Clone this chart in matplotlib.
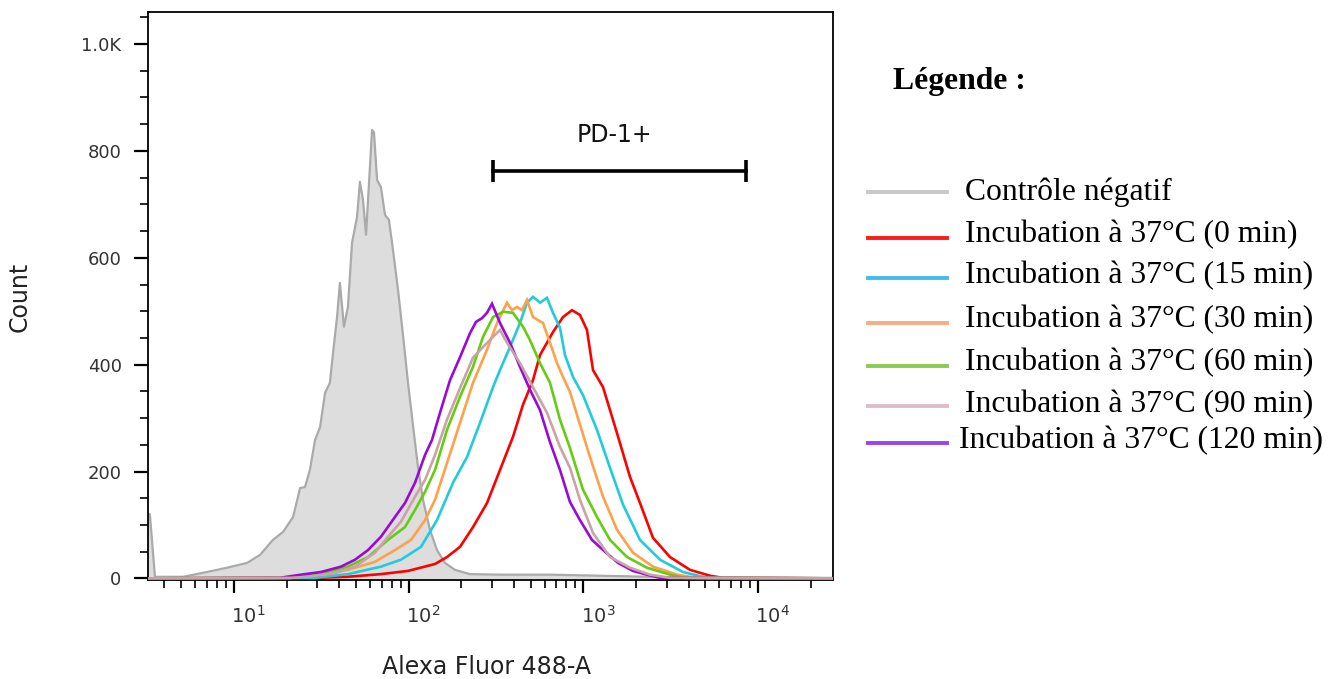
import matplotlib
matplotlib.use("Agg")
import matplotlib.pyplot as plt
from matplotlib.lines import Line2D
from matplotlib.ticker import FixedLocator, LogLocator, MultipleLocator, NullFormatter
import matplotlib.transforms as mtransforms

# ---- histogram data (fluorescence intensity, event count) ----
control_x = [3.0, 3.30, 3.53, 5.11, 7.01, 9.12, 11.9, 14.1, 16.7, 19.1, 21.8, 23.9, 25.5,
             27.2, 29.1, 31.1, 33.2, 35.4, 36.9, 38.9, 40.4, 42.6, 44.9, 47.4, 50.6, 52.6,
             54.8, 57.0, 61.7, 63.3, 65.9, 69.4, 73.2, 77.1, 81.3, 86.9, 92.8, 99.1, 105.8,
             113.0, 120.8, 132.4, 145.2, 161.4, 184.0, 224.0, 333.0, 644.0, 1245.0, 2406.0,
             4649.0, 30000.0]
control_y = [125, 120, 3, 3, 12, 20, 29, 44, 72, 87, 115, 169, 171,
             203, 259, 283, 347, 366, 422, 489, 553, 471, 508, 628, 676, 742,
             708, 643, 839, 835, 746, 732, 680, 671, 615, 540, 455, 366, 287,
             209, 147, 91, 53, 29, 16, 8, 7, 7, 5, 3,
             1, 1]

min0_x = [3.0, 29.1, 44.9, 69.4, 99.1, 141.5, 165.7, 196.7, 233.4, 280.7, 333.2, 395.4, 451.1,
          514.6, 564.5, 669.9, 764.2, 860.4, 956.1, 1048, 1135, 1295, 1557, 1848, 2109,
          2502, 3132, 4076, 5303, 6297, 30000]
min0_y = [0, 1, 3, 8, 14, 27, 40, 59, 96, 141, 203, 265, 325,
          371, 418, 461, 489, 502, 493, 465, 390, 358, 272, 190, 141,
          76, 40, 16, 5, 1, 0]

min15_x = [3.0, 29.1, 44.9, 69.4, 90.3, 117.6, 145.2, 179.3, 215.7, 256.0, 303.9, 333.2, 380.1,
           433.6, 475.5, 514.6, 564.5, 619.1, 669.9, 734.6, 784.6, 872, 994.7, 1196, 1420,
           1686, 2109, 2745, 3717, 5099, 30000]
min15_y = [0, 1, 8, 22, 35, 59, 109, 179, 227, 291, 358, 390, 433,
           478, 516, 527, 516, 525, 497, 469, 418, 377, 343, 278, 207,
           138, 72, 35, 12, 1, 0]

min30_x = [3.0, 17.9, 29.1, 44.9, 64.1, 83.5, 103.1, 124.0, 141.5, 165.7, 196.7, 233.4, 280.7,
           320.3, 365.4, 390.3, 416.8, 445.2, 475.5, 514.6, 587.3, 644.0, 706.2, 764.2, 838.0,
           919.1, 1091, 1295, 1557, 1922, 2502, 3434, 4470, 30000]
min30_y = [0, 1, 7, 16, 31, 53, 72, 109, 147, 216, 291, 366, 428,
           478, 516, 502, 508, 502, 521, 489, 478, 441, 403, 377, 349,
           306, 227, 153, 91, 48, 22, 7, 1, 0]

min60_x = [3.0, 21.2, 31.5, 44.9, 58.5, 76.1, 95.2, 108.7, 124.0, 141.5, 165.7, 196.7, 233.4,
           266.3, 303.9, 346.6, 395.4, 451.1, 494.7, 564.5, 644.0, 734.6, 838.0, 994.7, 1196,
           1420, 1777, 2312, 3132, 3816, 30000]
min60_y = [0, 1, 10, 22, 40, 72, 96, 128, 162, 203, 278, 340, 396,
           452, 489, 499, 497, 471, 446, 403, 366, 297, 244, 166, 115,
           72, 40, 20, 7, 1, 0]

min90_x = [3.0, 20.9, 26.5, 37.9, 49.3, 64.1, 76.1, 90.3, 108.7, 124.0, 141.5, 165.7, 196.7,
           233.4, 266.3, 303.9, 333.2, 365.4, 433.6, 514.6, 619.1, 734.6, 838.0, 956.1, 1135,
           1420, 1848, 2406, 3132, 30000]
min90_y = [0, 1, 3, 10, 22, 48, 78, 106, 153, 184, 231, 297, 356,
           413, 433, 452, 465, 441, 403, 358, 310, 246, 207, 147, 85,
           40, 20, 7, 1, 0]

min120_x = [3.0, 18.3, 24.2, 31.5, 41.0, 49.3, 58.5, 69.4, 83.5, 95.2, 108.7, 124.0, 135.9,
            151.1, 172.4, 196.7, 224.4, 242.8, 262.8, 280.7, 299.9, 333.2, 380.1, 433.6, 494.7,
            564.5, 644.0, 734.6, 838.0, 956.1, 1120, 1329, 1578, 1922, 2312, 2745, 30000]
min120_y = [0, 1, 7, 12, 22, 35, 53, 78, 115, 141, 179, 231, 259,
            310, 371, 414, 459, 480, 487, 497, 514, 478, 441, 396, 353,
            315, 255, 203, 143, 109, 72, 50, 29, 14, 7, 1, 0]

gate_bounds = [304, 8530]
gate_count = 762
gate_label = "PD-1+"

series_labels = ["Contrôle négatif",
                 "Incubation à 37°C (0 min)",
                 "Incubation à 37°C (15 min)",
                 "Incubation à 37°C (30 min)",
                 "Incubation à 37°C (60 min)",
                 "Incubation à 37°C (90 min)",
                 "Incubation à 37°C (120 min)"]
x_tick_values = [10, 100, 1000, 10000]
x_tick_labels = [r"$10^{1}$", r"$10^{2}$", r"$10^{3}$", r"$10^{4}$"]
y_tick_values = [0, 200, 400, 600, 800, 1000]
y_tick_labels = ["0", "200", "400", "600", "800", "1.0K"]

# ---- styling ----
line_colors = ["#ff0000", "#22cbdc", "#ffa04a", "#66cc11", "#c9a3a6", "#9a0ad6"]
swatch_colors = ["#c8c8c8", "#ff1a1a", "#44bbee", "#f7ad7f", "#88cc55", "#ddbccb", "#9944ee"]

W, H = 1338, 679
fig = plt.figure(figsize=(W / 100, H / 100), dpi=100)
ax = fig.add_axes([148 / W, 1 - 580 / H, 685 / W, 568 / H])

ax.fill_between(control_x, control_y, 0, color="#dddddd", lw=0, zorder=1)
ax.plot(control_x, control_y, color="#aaaaaa", lw=1.6, zorder=2)

colored = [(min0_x, min0_y), (min15_x, min15_y), (min30_x, min30_y),
           (min60_x, min60_y), (min120_x, min120_y), (min90_x, min90_y)]
order_colors = [line_colors[0], line_colors[1], line_colors[2], line_colors[3],
                line_colors[5], line_colors[4]]
for (xs, ys), c in zip(colored, order_colors):
    ax.plot(xs, ys, color=c, lw=1.9, zorder=3, solid_joinstyle="miter")

# gate marker
ax.plot(gate_bounds, [gate_count, gate_count], color="black", lw=2.6, zorder=4)
ax.vlines(gate_bounds, gate_count - 21, gate_count + 21, color="black", lw=2.6, zorder=4)
ax.text((gate_bounds[0] * gate_bounds[1]) ** 0.5 * 0.93, gate_count + 68, gate_label,
        ha="center", va="center", fontsize=17, color="#111111")

ax.set_xscale("log")
ax.set_xlim(3.22, 26840)
ax.set_ylim(-3, 1060)

ax.xaxis.set_major_locator(FixedLocator(x_tick_values))
ax.set_xticklabels(x_tick_labels)
ax.xaxis.set_minor_locator(LogLocator(base=10, subs=range(2, 10), numticks=20))
ax.xaxis.set_minor_formatter(NullFormatter())
ax.yaxis.set_major_locator(FixedLocator(y_tick_values))
ax.set_yticklabels(y_tick_labels)
ax.yaxis.set_minor_locator(MultipleLocator(50))

ax.tick_params(axis="both", which="major", direction="out", length=10, width=1.6,
               color="black", labelcolor="#333333")
ax.tick_params(axis="both", which="minor", direction="out", length=5.5, width=1.2, color="black")
ax.tick_params(axis="x", which="major", pad=9, length=9, labelsize=14)
ax.tick_params(axis="y", which="major", pad=9, labelsize=13)

offset = mtransforms.ScaledTranslation(-2 / 72, 0, fig.dpi_scale_trans)
for lab in ax.get_xticklabels():
    lab.set_horizontalalignment("left")
    lab.set_transform(lab.get_transform() + offset)

for sp in ax.spines.values():
    sp.set_linewidth(1.3)
    sp.set_color("black")

ax.set_xlabel("Alexa Fluor 488-A", fontsize=17, color="#222222", va="center")
ax.xaxis.set_label_coords((487 - 148) / 685, (580 - 667) / 568)
ax.set_ylabel("Count", fontsize=17, color="#222222", va="center")
ax.yaxis.set_label_coords((20 - 148) / 685, (580 - 297) / 568)

# ---- legend panel ----
fig.text(893 / W, 1 - 89 / H, "Légende :", fontsize=22.8, fontweight="bold",
         family="Liberation Serif", ha="left", va="baseline")
line_rows = [192, 238, 278, 323, 366, 406, 443]
text_rows = [200, 242, 283, 327, 370, 412, 448]
text_left = [965, 965, 965, 965, 965, 965, 959]
for lbl, c, ly, ty, tx in zip(series_labels, swatch_colors, line_rows, text_rows, text_left):
    fig.add_artist(Line2D([868 / W, 947 / W], [1 - ly / H, 1 - ly / H], color=c, lw=2.8))
    fig.text(tx / W, 1 - ty / H, lbl, fontsize=22.8, family="Liberation Serif",
             ha="left", va="baseline", color="black")

fig.savefig("out.png", dpi=100)
